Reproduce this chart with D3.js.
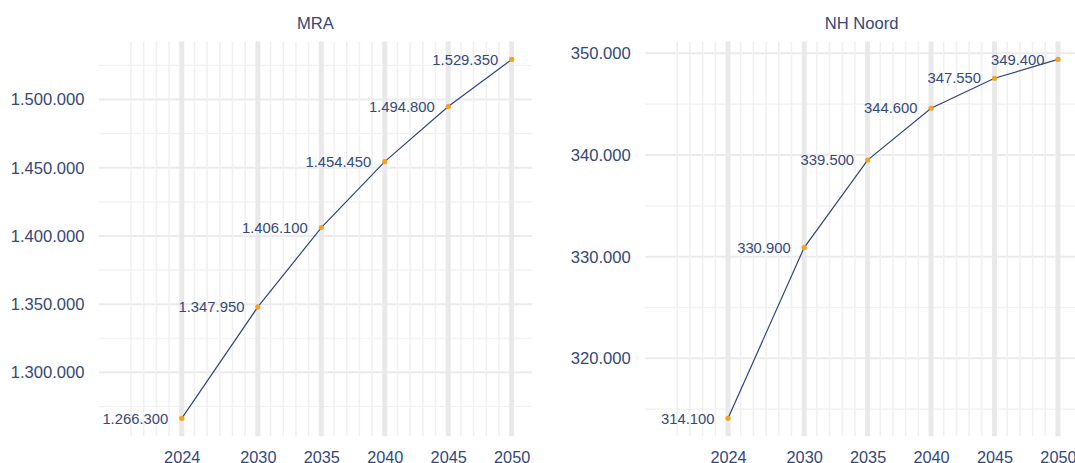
<!DOCTYPE html>
<html>
<head>
<meta charset="utf-8">
<script src="https://cdn.jsdelivr.net/npm/d3@7/dist/d3.min.js"></script>
<style>
  html, body { margin: 0; padding: 0; background: #ffffff; }
  svg { display: block; }
  text { font-family: "Liberation Sans", Arial, Helvetica, sans-serif; fill: #34487a; }
</style>
</head>
<body>
<svg id="chart" width="1075" height="463"></svg>
<script>
// Population forecast per region (Dutch number formatting)
const years = [2024, 2030, 2035, 2040, 2045, 2050];
const mraValues = [1266300, 1347950, 1406100, 1454450, 1494800, 1529350];
const nhNoordValues = [314100, 330900, 339500, 344600, 347550, 349400];

const panelTitles = ["MRA", "NH Noord"];
const xTickYears = [2024, 2030, 2035, 2040, 2045, 2050];
const xMinorYears = d3.range(2020, 2051);
const mraTicks = [1300000, 1350000, 1400000, 1450000, 1500000];
const mraMinorTicks = [1275000, 1325000, 1375000, 1425000, 1475000, 1525000];
const nhTicks = [320000, 330000, 340000, 350000];
const nhMinorTicks = [315000, 325000, 335000, 345000];

const nl = d3.formatLocale({ decimal: ",", thousands: ".", grouping: [3], currency: ["€ ", ""] });
const fmt = nl.format(",d");

const svg = d3.select("#chart");

const panelW = 432.7;
const plotTop = 41.5, plotBottom = 436.3;
const xExtent = [2017.48, 2051.58];

const panels = [
  { title: panelTitles[0], values: mraValues, ticks: mraTicks, minor: mraMinorTicks, left: 99 },
  { title: panelTitles[1], values: nhNoordValues, ticks: nhTicks, minor: nhMinorTicks, left: 645.3 }
];

panels.forEach(p => {
  const g = svg.append("g").attr("transform", `translate(${p.left},0)`);

  const x = d3.scaleLinear().domain(xExtent).range([0, panelW]);
  const [lo, hi] = d3.extent(p.values);
  const pad = (hi - lo) * 0.05;
  const y = d3.scaleLinear().domain([lo - pad, hi + pad]).range([plotBottom, plotTop]);

  // grid: horizontal minor + major
  g.selectAll(".hminor").data(p.minor).join("line")
    .attr("x1", 0).attr("x2", panelW)
    .attr("y1", d => y(d)).attr("y2", d => y(d))
    .attr("stroke", "#f1f1f1").attr("stroke-width", 1.2);
  g.selectAll(".hmajor").data(p.ticks).join("line")
    .attr("x1", 0).attr("x2", panelW)
    .attr("y1", d => y(d)).attr("y2", d => y(d))
    .attr("stroke", "#ebebeb").attr("stroke-width", 2);

  // grid: vertical minor (every year) + major (labelled years)
  g.selectAll(".vminor").data(xMinorYears.filter(d => !xTickYears.includes(d))).join("line")
    .attr("x1", d => x(d)).attr("x2", d => x(d))
    .attr("y1", plotTop).attr("y2", plotBottom)
    .attr("stroke", "#f0f0f0").attr("stroke-width", 1.5);
  g.selectAll(".vmajor").data(xTickYears).join("line")
    .attr("x1", d => x(d)).attr("x2", d => x(d))
    .attr("y1", plotTop).attr("y2", plotBottom)
    .attr("stroke", "#e9e9e9").attr("stroke-width", 5);

  // axes (text only, no domain lines)
  const yAxis = d3.axisLeft(y).tickValues(p.ticks).tickFormat(fmt).tickSize(0).tickPadding(14.5);
  const ya = g.append("g").call(yAxis);
  ya.select(".domain").remove();
  ya.selectAll("text").attr("font-size", 16.6).attr("fill", "#34487a")
    .attr("font-family", '"Liberation Sans", Arial, sans-serif');

  const xAxis = d3.axisBottom(x).tickValues(xTickYears).tickFormat(d3.format("d")).tickSize(0).tickPadding(0);
  const xa = g.append("g").attr("transform", `translate(0,${plotBottom})`).call(xAxis);
  xa.select(".domain").remove();
  xa.selectAll("text").attr("font-size", 16.3).attr("fill", "#34487a")
    .attr("font-family", '"Liberation Sans", Arial, sans-serif')
    .attr("dy", null).attr("y", 27.2);

  // title
  g.append("text")
    .attr("x", panelW / 2).attr("y", 29)
    .attr("text-anchor", "middle")
    .attr("font-size", 16.6)
    .text(p.title);

  const pts = years.map((yr, i) => ({ yr, v: p.values[i] }));

  // line
  g.append("path").datum(pts)
    .attr("fill", "none")
    .attr("stroke", "#2e4380")
    .attr("stroke-width", 1.2)
    .attr("d", d3.line().x(d => x(d.yr)).y(d => y(d.v)));

  // points
  g.selectAll(".pt").data(pts).join("circle")
    .attr("cx", d => x(d.yr)).attr("cy", d => y(d.v))
    .attr("r", 2.6).attr("fill", "#f4a21f");

  // value labels
  g.selectAll(".lbl").data(pts).join("text")
    .attr("x", d => x(d.yr) - 13.5).attr("y", d => y(d.v))
    .attr("dy", "0.35em")
    .attr("text-anchor", "end")
    .attr("font-size", 14.8)
    .text(d => fmt(d.v));
});
</script>
</body>
</html>
